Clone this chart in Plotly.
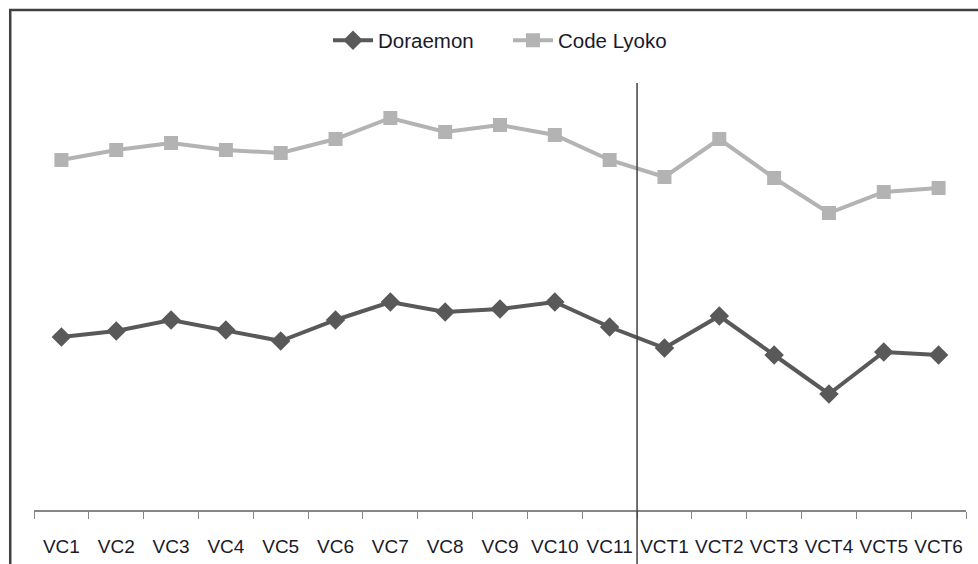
import plotly.graph_objects as go

categories = ["VC1", "VC2", "VC3", "VC4", "VC5", "VC6", "VC7", "VC8", "VC9", "VC10", "VC11",
              "VCT1", "VCT2", "VCT3", "VCT4", "VCT5", "VCT6"]
doraemon = [43.25, 44.75, 47.5, 45, 42.25, 47.5, 52, 49.5, 50.25, 52, 45.75,
            40.5, 48.5, 38.75, 29, 39.5, 38.75]
code_lyoko = [87.5, 90, 91.75, 90, 89.25, 92.75, 98, 94.5, 96.25, 93.75, 87.5,
              83.25, 92.75, 83, 74.25, 79.5, 80.5]
divider_position = 10.5  # between VC11 and VCT1

fig = go.Figure()
fig.add_trace(go.Scatter(
    x=categories, y=doraemon, name="Doraemon", mode="lines+markers",
    line=dict(color="#595959", width=4),
    marker=dict(symbol="diamond", size=15, color="#595959"),
))
fig.add_trace(go.Scatter(
    x=categories, y=code_lyoko, name="Code Lyoko", mode="lines+markers",
    line=dict(color="#B3B3B3", width=4),
    marker=dict(symbol="square", size=14, color="#B3B3B3"),
))

# divider line
fig.add_shape(type="line", xref="x", yref="paper",
              x0=divider_position, x1=divider_position, y0=1, y1=-0.2,
              line=dict(color="#404040", width=1.5), layer="above")
# outer chart border
fig.add_shape(type="rect", xref="paper", yref="paper",
              x0=-0.0255, x1=1.02, y0=-0.2, y1=1.171,
              line=dict(color="#404040", width=2.5), fillcolor="rgba(0,0,0,0)")

fig.update_layout(
    width=978, height=564,
    margin=dict(l=34, r=12, t=83, b=54, autoexpand=False),
    paper_bgcolor="white", plot_bgcolor="white",
    font=dict(family="Liberation Sans, Arial, sans-serif", size=19, color="#1a1a2a"),
    showlegend=True,
    legend=dict(orientation="h", x=0.5086, xanchor="center", y=1.1, yanchor="middle",
                font=dict(size=20.5), itemwidth=40, entrywidth=125,
                entrywidthmode="pixels", bgcolor="rgba(0,0,0,0)"),
    xaxis=dict(type="category", range=[-0.5, 16.5], showline=True, linecolor="#868686",
               linewidth=1.5, ticks="outside", tickson="boundaries", ticklen=7,
               tickcolor="#868686", showgrid=False, zeroline=False, automargin=False,
               tickangle=0, tickfont=dict(size=19), ticklabelstandoff=18),
    yaxis=dict(range=[0, 106.75], visible=False, showgrid=False, zeroline=False,
               automargin=False),
)

fig.write_html("out.html", config={"displayModeBar": False},
               post_script="document.body.style.margin='0';document.body.style.overflow='hidden';")
